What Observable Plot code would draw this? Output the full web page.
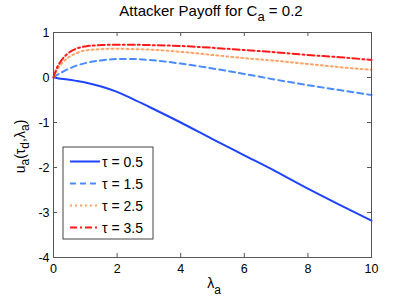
<!DOCTYPE html>
<html><head><meta charset="utf-8">
<script src="https://cdn.jsdelivr.net/npm/d3@7"></script>
<script src="https://cdn.jsdelivr.net/npm/@observablehq/plot@0.6"></script>
<style>body{margin:0;background:#fff}</style>
</head><body><div id="chart"></div>
<script>
// ---- data ----
const lambda = [0, 0.1, 0.25, 0.5, 0.75, 1, 1.5, 2, 2.5, 3, 4, 5, 6, 7, 8, 9, 10];
const tau05 = [0, -0.01, -0.03, -0.05, -0.08, -0.11, -0.2, -0.32, -0.48, -0.65, -1.0, -1.37, -1.73, -2.09, -2.47, -2.83, -3.18];
const tau15 = [0, 0.05, 0.11, 0.2, 0.27, 0.32, 0.38, 0.41, 0.41, 0.39, 0.31, 0.2, 0.08, -0.05, -0.17, -0.28, -0.39];
const tau25 = [0, 0.15, 0.3, 0.46, 0.55, 0.6, 0.63, 0.64, 0.63, 0.62, 0.57, 0.5, 0.43, 0.37, 0.3, 0.23, 0.17];
const tau35 = [0, 0.2, 0.38, 0.56, 0.65, 0.69, 0.72, 0.73, 0.73, 0.72, 0.7, 0.66, 0.61, 0.56, 0.5, 0.45, 0.39];
const seriesNames = ["τ = 0.5", "τ = 1.5", "τ = 2.5", "τ = 3.5"];
const xTicks = [0, 2, 4, 6, 8, 10];
const yTicks = [-4, -3, -2, -1, 0, 1];

// ---- styles ----
const seriesValues = [tau05, tau15, tau25, tau35];
const colors = ["#1f44ff", "#4a8cff", "#ffa366", "#ff1a1a"];
const dashes = [null, "6,4", "2,3", "7,3,2,3"];

const W = 409, H = 299, mL = 53, mR = 38, mT = 32, mB = 42;
const fw = W - mL - mR, fh = H - mT - mB;
const font = "'Liberation Sans', Arial, Helvetica, sans-serif";

const tables = seriesValues.map(vals => lambda.map((x, i) => ({x, y: vals[i]})));

const plot = Plot.plot({
  width: W, height: H,
  marginLeft: mL, marginRight: mR, marginTop: mT, marginBottom: mB,
  style: {fontFamily: font, fontSize: "12.5px", background: "#fff", color: "#000", overflow: "visible"},
  x: {domain: [0, 10]},
  y: {domain: [-4, 1]},
  marks: [
    Plot.ruleX(xTicks, {x: d => d, insetTop: fh - 4, stroke: "#555"}),
    Plot.ruleX(xTicks, {x: d => d, insetBottom: fh - 4, stroke: "#555"}),
    Plot.ruleY(yTicks, {y: d => d, insetRight: fw - 4, stroke: "#555"}),
    Plot.ruleY(yTicks, {y: d => d, insetLeft: fw - 4, stroke: "#555"}),
    Plot.axisX(xTicks, {tickSize: 0, tickPadding: 7, label: null, tickFormat: d => String(d)}),
    Plot.axisY(yTicks, {tickSize: 0, tickPadding: 4, label: null, tickFormat: d => String(d)}),
    ...tables.map((t, i) => Plot.line(t, {
      x: "x", y: "y", stroke: colors[i], strokeWidth: 2,
      strokeDasharray: dashes[i], curve: "monotone-x"
    })),
    Plot.frame({stroke: "#555", strokeWidth: 1})
  ]
});
document.getElementById("chart").appendChild(plot);

const svg = d3.select(plot);
// title
const title = svg.append("text").attr("x", mL + fw / 2 - 1).attr("y", 16)
  .attr("text-anchor", "middle").style("font-family", font).style("font-size", "15px").attr("fill", "#000");
title.append("tspan").text("Attacker Payoff for C");
title.append("tspan").attr("dy", 5).style("font-size", "13px").text("a");
title.append("tspan").attr("dy", -5).text(" = 0.2");

// x label
const xl = svg.append("text").attr("x", mL + fw / 2 + 2).attr("y", 288)
  .attr("text-anchor", "middle").style("font-family", font).style("font-size", "14px");
xl.append("tspan").text("λ");
xl.append("tspan").attr("dy", 6).style("font-size", "12px").text("a");

// y label
const yl = svg.append("text").attr("transform", `translate(25,${mT + fh / 2 + 2}) rotate(-90)`)
  .attr("text-anchor", "middle").style("font-family", font).style("font-size", "14px");
yl.append("tspan").text("u");
yl.append("tspan").attr("dy", 4).style("font-size", "12px").text("a");
yl.append("tspan").attr("dy", -4).text("(τ");
yl.append("tspan").attr("dy", 4).style("font-size", "12px").text("d");
yl.append("tspan").attr("dy", -4).text(",λ");
yl.append("tspan").attr("dy", 4).style("font-size", "12px").text("a");
yl.append("tspan").attr("dy", -4).text(")");

// legend
const lg = svg.append("g").attr("transform", "translate(63,147)");
lg.append("rect").attr("width", 90).attr("height", 92).attr("fill", "#fff").attr("stroke", "#444").attr("stroke-width", 1);
seriesNames.forEach((name, i) => {
  const y = 14.5 + i * 22;
  lg.append("line").attr("x1", 7).attr("x2", 37).attr("y1", y).attr("y2", y)
    .attr("stroke", colors[i]).attr("stroke-width", 2).attr("stroke-dasharray", dashes[i]);
  lg.append("text").attr("x", 39).attr("y", y + 5).attr("text-anchor", "start")
    .style("font-family", font).style("font-size", "14px").text(name);
});
</script>
</body></html>
